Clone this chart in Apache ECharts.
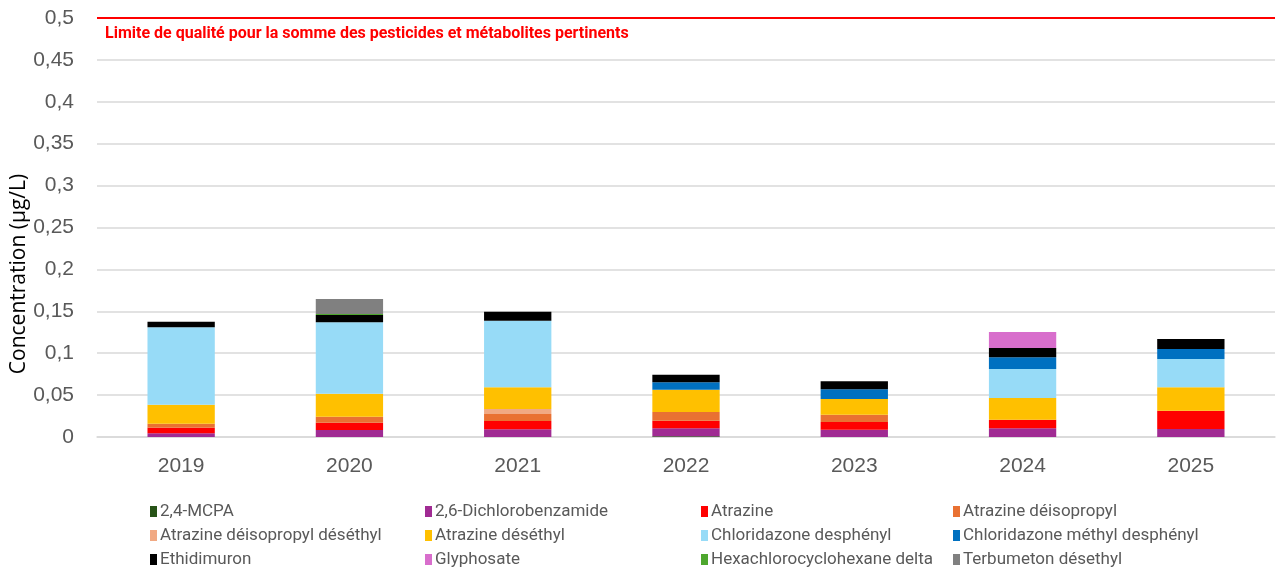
<!DOCTYPE html>
<html>
<head>
<meta charset="utf-8">
<script src="https://cdn.jsdelivr.net/npm/echarts@6/dist/echarts.min.js"></script>
<style>
  html, body { margin: 0; padding: 0; background: #fff; }
  #chart { width: 1283px; height: 571px; }
</style>
</head>
<body>
<div id="chart"></div>
<script>
// Years on the x axis
const years = ['2019', '2020', '2021', '2022', '2023', '2024', '2025'];

// Concentrations (µg/L) per substance
const mcpa         = [null, null, null, 0.0008, null, null, null];
const dcb          = [0.0044, 0.0084, 0.0092, 0.0096, 0.0087, 0.0104, 0.0095];
const atrazine     = [0.0067, 0.0087, 0.0099, 0.0091, 0.0092, 0.0102, 0.0219];
const deisopropyl  = [0.0048, 0.0071, 0.0083, 0.0103, 0.0087, null, null];
const deisoDeseth  = [null, null, 0.006, null, null, null, null];
const deseth       = [0.0226, 0.0275, 0.0259, 0.0266, 0.0187, 0.0259, 0.0279];
const chloridazone = [0.0924, 0.0852, 0.0795, null, null, 0.0346, 0.0338];
const chloMethyl   = [null, null, null, 0.0089, 0.0116, 0.014, 0.0119];
const ethidimuron  = [0.0067, 0.0087, 0.0107, 0.009, 0.0096, 0.0111, 0.0119];
const glyphosate   = [null, null, null, null, null, 0.0191, null];
const hchDelta     = [null, 0.0012, null, null, null, null, null];
const terbumeton   = [null, 0.0179, null, null, null, null, null];

const qualityLimit = 0.5;
const limitLabel = 'Limite de qualité pour la somme des pesticides et métabolites pertinents';
const yTitle = 'Concentration (µg/L)';

// name, data, colour (stack order bottom -> top)
const substances = [
    ['2,4-MCPA', mcpa, '#275317'],
    ['2,6-Dichlorobenzamide', dcb, '#A02B93'],
    ['Atrazine', atrazine, '#FF0000'],
    ['Atrazine déisopropyl', deisopropyl, '#E97132'],
    ['Atrazine déisopropyl déséthyl', deisoDeseth, '#F1A983'],
    ['Atrazine déséthyl', deseth, '#FFC000'],
    ['Chloridazone desphényl', chloridazone, '#97DBF7'],
    ['Chloridazone méthyl desphényl', chloMethyl, '#0070C0'],
    ['Ethidimuron', ethidimuron, '#000000'],
    ['Glyphosate', glyphosate, '#D86ECC'],
    ['Hexachlorocyclohexane delta', hchDelta, '#4EA72E'],
    ['Terbumeton désethyl', terbumeton, '#808080']
];

const narrow = '"Liberation Sans Narrow", "Roboto", sans-serif';

const chart = echarts.init(document.getElementById('chart'));

const series = substances.map(([name, data, color], i) => {
    const s = {
        name: name,
        type: 'bar',
        stack: 'total',
        barWidth: '40%',
        data: data,
        itemStyle: { color: color },
        emphasis: { disabled: true }
    };
    if (i === 0) {
        s.markLine = {
            silent: true,
            symbol: 'none',
            lineStyle: { color: '#FF0000', width: 2, type: 'solid' },
            label: {
                position: 'insideStartBottom',
                formatter: limitLabel,
                color: '#FF0000',
                fontWeight: 'bold',
                fontSize: 16,
                fontFamily: narrow,
                distance: [8, 8]
            },
            data: [{ yAxis: qualityLimit }]
        };
    }
    return s;
});

// legend laid out as 4 columns of 3 items, like the original
const legendCols = [150, 425, 701, 953];
const legends = legendCols.map((left, c) => ({
    orient: 'vertical',
    left: left,
    top: 503,
    height: 68,
    padding: 0,
    itemGap: 7,
    itemWidth: 7,
    itemHeight: 11,
    icon: 'rect',
    selectedMode: false,
    textStyle: { color: '#595959', fontSize: 17, fontFamily: narrow, padding: [0, 0, 0, -2] },
    data: [0, 1, 2].map(r => substances[r * 4 + c][0])
}));

const fmt = v => String(+v.toFixed(2)).replace('.', ',');

chart.setOption({
    animation: false,
    textStyle: { fontFamily: '"Liberation Sans", Arial, sans-serif' },
    grid: { left: 97, right: 8, top: 18, bottom: 134, outerBoundsMode: 'none' },
    legend: legends,
    // y axis title, placed as in the original (below the axis centre)
    graphic: [{
        type: 'text',
        x: 19,
        y: 274,
        rotation: Math.PI / 2,
        style: {
            text: yTitle,
            fill: '#000',
            fontSize: 21,
            fontFamily: '"Open Sans", sans-serif',
            align: 'center',
            verticalAlign: 'middle'
        }
    }],
    xAxis: {
        type: 'category',
        data: years,
        axisLine: { lineStyle: { color: '#D9D9D9', width: 1.5 } },
        axisTick: { show: false },
        axisLabel: { color: '#595959', fontSize: 21, margin: 19 }
    },
    yAxis: {
        type: 'value',
        min: 0,
        max: 0.5,
        interval: 0.05,
        axisLabel: { color: '#595959', fontSize: 21, margin: 23, formatter: fmt },
        splitLine: { lineStyle: { color: '#D9D9D9', width: 1.5 } }
    },
    series: series
});
</script>
</body>
</html>
